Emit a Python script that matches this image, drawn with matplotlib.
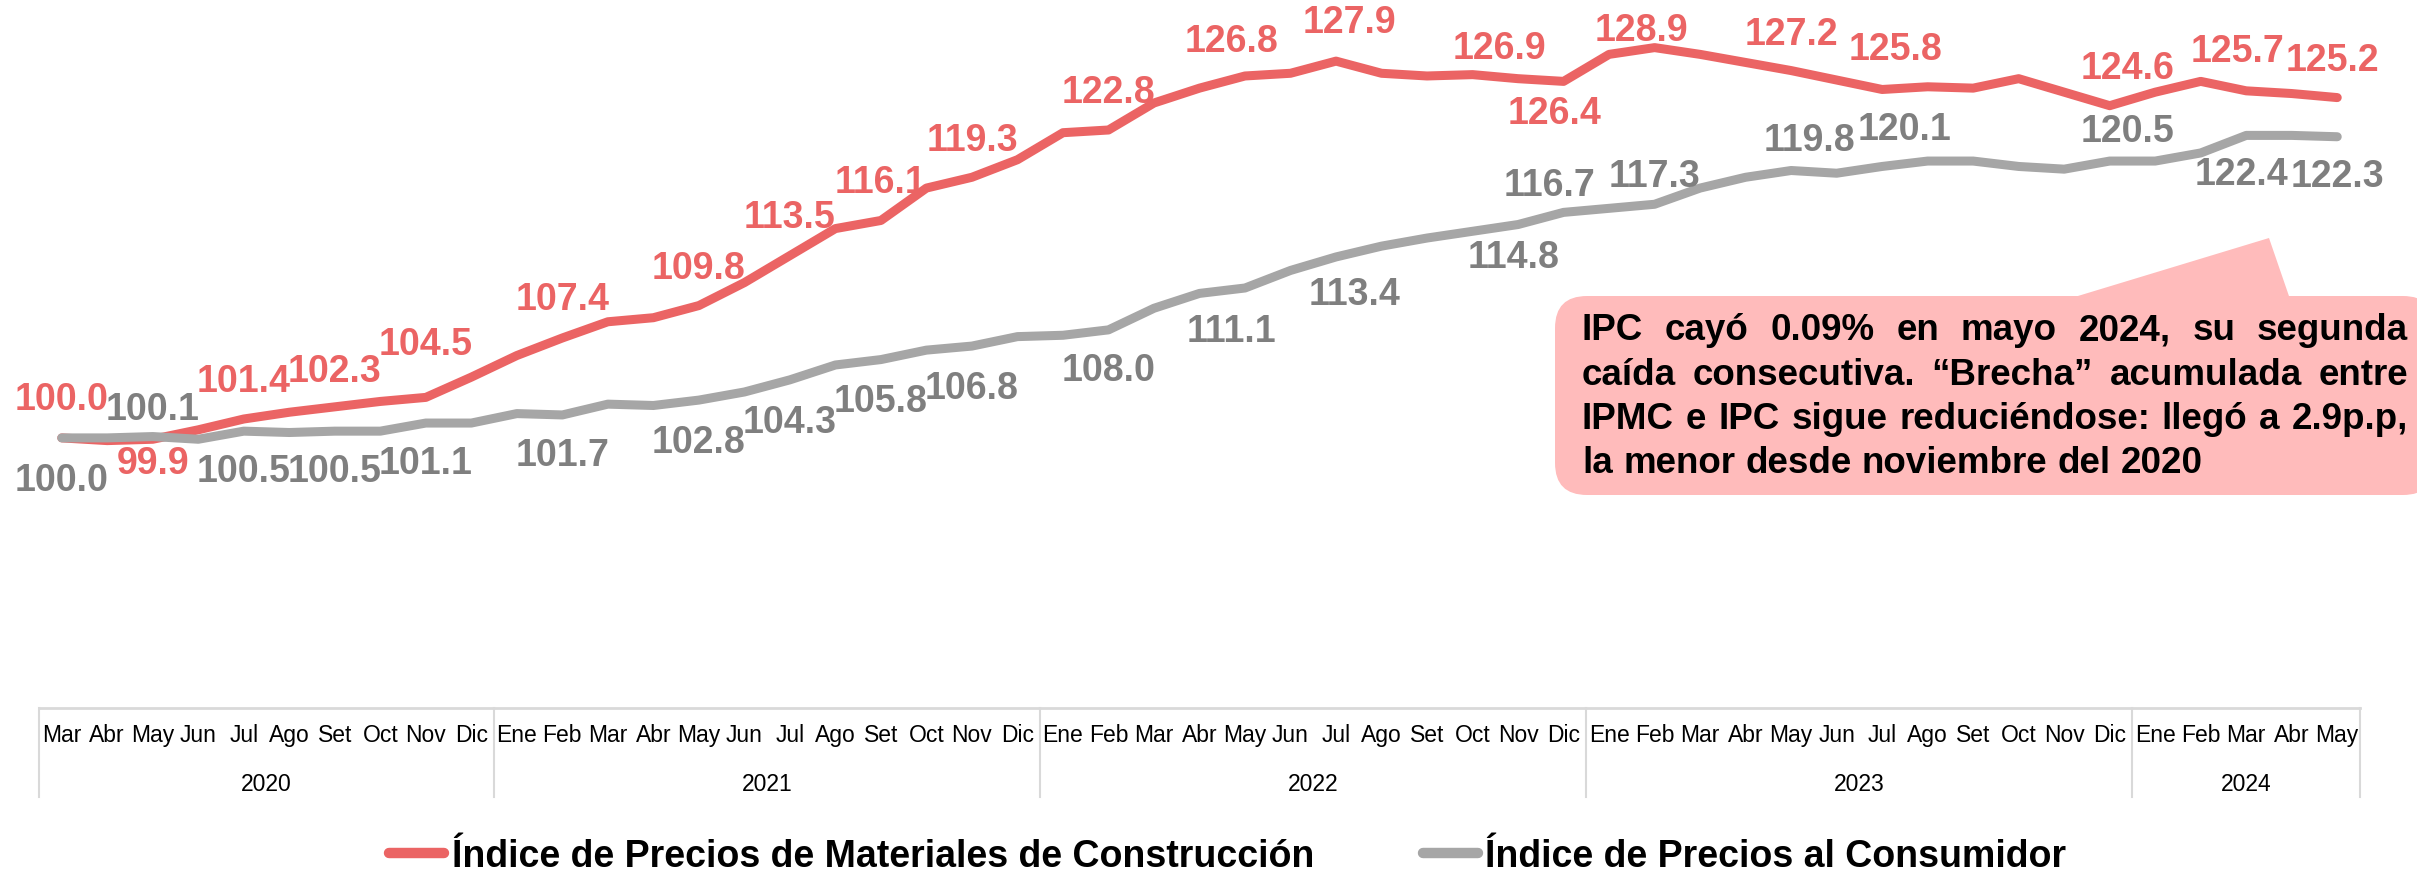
import matplotlib
matplotlib.use("Agg")
import matplotlib.pyplot as plt
import matplotlib.transforms as mtransforms
from matplotlib import font_manager
from matplotlib.lines import Line2D
from matplotlib.patches import FancyBboxPatch, Polygon

W, H, DPI = 2417, 878, 100

# --- data -------------------------------------------------------------------
month_names = ["Ene", "Feb", "Mar", "Abr", "May", "Jun",
               "Jul", "Ago", "Set", "Oct", "Nov", "Dic"]
months = month_names[2:] + month_names * 3 + month_names[:5]
years = ["2020", "2021", "2022", "2023", "2024"]
year_lengths = [10, 12, 12, 12, 5]

ipmc = [100.0, 99.8, 99.9, 100.6, 101.4, 101.9, 102.3, 102.7, 103.0, 104.5,
        106.1, 107.4, 108.6, 108.9, 109.8, 111.5, 113.5, 115.5, 116.1, 118.5,
        119.3, 120.6, 122.6, 122.8, 124.8, 125.9, 126.8, 127.0, 127.9, 127.0,
        126.8, 126.9, 126.6, 126.4, 128.4, 128.9, 128.4, 127.8, 127.2, 126.5,
        125.8, 126.0, 125.9, 126.6, 125.6, 124.6, 125.6, 126.4, 125.7, 125.5,
        125.2]
ipc = [100.0, 100.0, 100.1, 99.9, 100.5, 100.4, 100.5, 100.5, 101.1, 101.1,
       101.8, 101.7, 102.5, 102.4, 102.8, 103.4, 104.3, 105.4, 105.8, 106.5,
       106.8, 107.5, 107.6, 108.0, 109.6, 110.7, 111.1, 112.4, 113.4, 114.2,
       114.8, 115.3, 115.8, 116.7, 117.0, 117.3, 118.5, 119.3, 119.8, 119.6,
       120.1, 120.5, 120.5, 120.1, 119.9, 120.5, 120.5, 121.1, 122.4, 122.4,
       122.3]

# labelled points: (index, vertical offset in pt, horizontal nudge in months)
ipmc_labels = [(0, 28, 0), (2, -17, 0), (4, 27, 0), (6, 26, 0), (9, 24, -1.0),
               (11, 28, 0), (14, 27, 0), (16, 28, 0), (18, 28, 0), (20, 27, 0),
               (23, 27, 0), (26, 25, -0.3), (28, 28, 0.3), (31, 19, 0.6),
               (33, -23, -0.2), (35, 13, -0.3), (38, 26, 0), (40, 29, 0.3),
               (45, 27, 0.4), (48, 29, -0.2), (50, 27, -0.1)]
ipc_labels = [(0, -30, 0), (2, 20, 0), (4, -29, 0), (6, -29, 0), (8, -29, 0),
              (11, -29, 0), (14, -30, 0), (16, -30, 0), (18, -30, 0),
              (20, -30, 0), (23, -29, 0), (26, -31, -0.3), (28, -27, 0.4),
              (30, -14, 1.9), (33, 20, -0.3), (35, 20, 0), (38, 22, 0.4),
              (40, 27, 0.5), (45, 22, 0.4), (48, -28, -0.1), (50, -28, 0)]

note_lines = ["IPC cayó 0.09% en mayo 2024, su segunda",
              "caída consecutiva. “Brecha” acumulada entre",
              "IPMC e IPC sigue reduciéndose: llegó a 2.9p.p,",
              "la menor desde noviembre del 2020"]

RED = "#EB6464"
GRAY = "#A6A6A6"
GRAY_TXT = "#7F7F7F"
GRID = "#D9D9D9"
PINK = "#FFBBBB"

# the original uses a narrow face; use one if installed
names = {f.name for f in font_manager.fontManager.ttflist}
if "Liberation Sans Narrow" in names:
    plt.rcParams["font.family"] = ["Liberation Sans Narrow", "DejaVu Sans"]
    K = 1 / 0.82
else:
    plt.rcParams["font.family"] = ["Liberation Sans", "DejaVu Sans"]
    K = 1.0

fig = plt.figure(figsize=(W / DPI, H / DPI), dpi=DPI)
ax = fig.add_axes([39 / W, 1 - 709 / H, 2321 / W, 709 / H])

LW = 6.5
x = list(range(len(months)))
ax.plot(x, ipmc, color=RED, lw=LW, solid_capstyle="round", solid_joinstyle="round")
ax.plot(x, ipc, color=GRAY, lw=LW, solid_capstyle="round", solid_joinstyle="round")

month_pt = 2321 / len(months) * 72 / DPI
for series, specs, col in [(ipmc, ipmc_labels, RED), (ipc, ipc_labels, GRAY_TXT)]:
    for i, dy, dx in specs:
        ax.annotate(f"{series[i]:.1f}", (i, series[i]),
                    xytext=(dx * month_pt, dy), textcoords="offset points",
                    ha="center", va="center", fontsize=27 * K,
                    fontweight="bold", color=col)

ax.set_xlim(-0.5, len(months) - 0.5)
ax.set_ylim(80, 132.5)
ax.set_yticks([])
ax.set_xticks(x, months, fontsize=16.5 * K)
ax.tick_params(axis="x", length=0, pad=11)
for s in ["top", "right", "left"]:
    ax.spines[s].set_visible(False)
ax.spines["bottom"].set_color(GRID)
ax.spines["bottom"].set_linewidth(2)

# year table below the month labels
xt = ax.get_xaxis_transform()
edge = -0.5
ax.plot([edge, edge], [0, -0.125], transform=xt, color=GRID, lw=1.5, clip_on=False)
for yr, n in zip(years, year_lengths):
    ax.text(edge + n / 2, -0.107, yr, transform=xt, ha="center", va="center",
            fontsize=16.5 * K)
    edge += n
    ax.plot([edge, edge], [0, -0.125], transform=xt, color=GRID, lw=1.5,
            clip_on=False)

# callout box
ident = mtransforms.IdentityTransform()
box = FancyBboxPatch((1555, H - 496), 880, 199,
                     boxstyle="round,pad=0,rounding_size=32",
                     transform=ident, facecolor=PINK, edgecolor="none")
fig.patches.append(box)
tri = Polygon([(2068, H - 300), (2290, H - 300), (2269, H - 239)],
              closed=True, transform=ident, facecolor=PINK, edgecolor="none")
fig.patches.append(tri)

renderer = fig.canvas.get_renderer()
note_size = 26.5 * K


def text_width(s):
    t = fig.text(0, 0, s, fontsize=note_size, fontweight="bold")
    w = t.get_window_extent(renderer).width
    t.remove()
    return w


space = text_width("x x") - text_width("xx")
left, right = 1582, 2408
for k, line in enumerate(note_lines):
    y = H - (331 + 44.3 * k)
    words = line.split()
    texts = [fig.text(0, y, w, transform=ident, fontsize=note_size,
                      fontweight="bold", va="center", color="black")
             for w in words]
    widths = [t.get_window_extent(renderer).width for t in texts]
    if k < len(note_lines) - 1:
        gap = (right - left - sum(widths)) / (len(words) - 1)
    else:
        gap = space
    pos = left
    for t, w in zip(texts, widths):
        t.set_x(pos)
        pos += w + gap

handles = [Line2D([], [], color=RED, lw=LW + 1, solid_capstyle="round"),
           Line2D([], [], color=GRAY, lw=LW + 1, solid_capstyle="round")]
fig.legend(handles, ["Índice de Precios de Materiales de Construcción",
                     "Índice de Precios al Consumidor"],
           loc="center", bbox_to_anchor=(0.508, 0.024), ncol=2, frameon=False,
           prop={"size": 27 * K, "weight": "bold"}, handlelength=1.46 / K,
           handletextpad=0.2 / K, columnspacing=2.9 / K)

fig.savefig("out.png", dpi=DPI)
